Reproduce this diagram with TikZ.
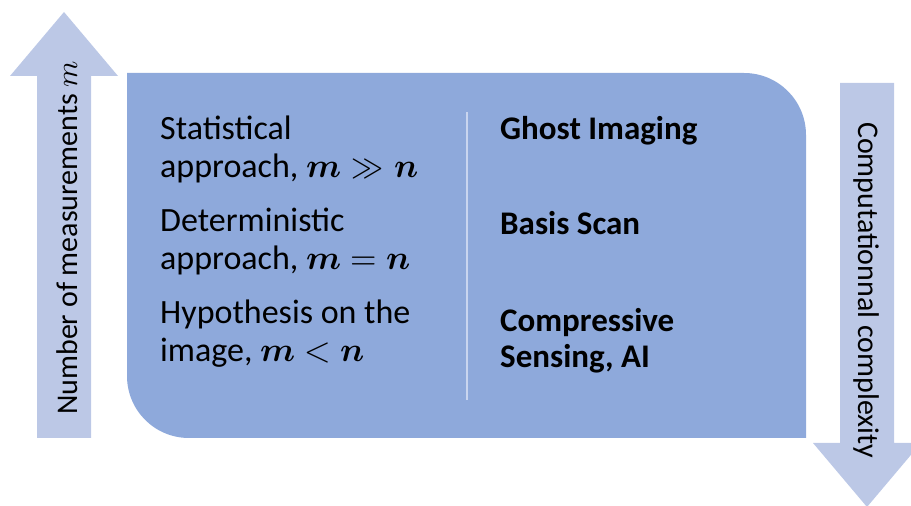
\documentclass[tikz,border=0pt]{standalone}
\usepackage{fontspec}
\usepackage{unicode-math}
\setmainfont{Carlito}
\setmathfont{Latin Modern Math}
\definecolor{boxblue}{HTML}{8EA9DB}
\definecolor{arrblue}{HTML}{BCC8E6}
\definecolor{divline}{HTML}{C9D5EF}
\begin{document}
\begin{tikzpicture}[x=1pt,y=1pt,
  lefttxt/.style={anchor=base west,align=left,inner sep=0pt,font=\fontsize{34}{38}\selectfont},
  righttxt/.style={anchor=base west,align=left,inner sep=0pt,font=\fontsize{33}{36}\selectfont\bfseries},
  sidetxt/.style={anchor=base west,inner sep=0pt,font=\fontsize{30}{34}\selectfont}]
\useasboundingbox (0,0) rectangle (911,506);
% up arrow (left)
\fill[arrblue] (37,68) -- (37,430) -- (10,430) -- (64,494) -- (118,430) -- (91,430) -- (91,68) -- cycle;
% down arrow (right)
\fill[arrblue] (840,423) -- (840,63) -- (813,63) -- (867,-1) -- (921,63) -- (894,63) -- (894,423) -- cycle;
% main box
\fill[boxblue] (127,433) -- (744,433) to[out=0,in=90] (806,371) -- (806,68) -- (189,68) to[out=180,in=-90] (127,130) -- cycle;
% divider
\draw[divline,line width=1.6pt] (467,394) coordinate (dtop) -- (467,106) coordinate (dbot);
% left texts (base = last line)
\node[lefttxt] (stat) at (160,328) {Statistical\\approach, $\symbfit{m} \gg \symbfit{n}$};
\node[lefttxt] (det) at (160,236) {Deterministic\\approach, $\symbfit{m} = \symbfit{n}$};
\node[lefttxt] (hyp) at (160,144) {Hypothesis on the\\image, $\symbfit{m} < \symbfit{n}$};
% right texts
\node[righttxt] (ghost) at (500,366) {Ghost Imaging};
\node[righttxt] (basis) at (500,271) {Basis Scan};
\node[righttxt] (comp) at (500,138) {Compressive\\Sensing, AI};
% side labels
\node[sidetxt,rotate=90] (nmeas) at (77,91) {Number of measurements $m$};
\node[sidetxt,rotate=-90] (cc) at (858,384) {Computationnal complexity};
\end{tikzpicture}
\end{document}
